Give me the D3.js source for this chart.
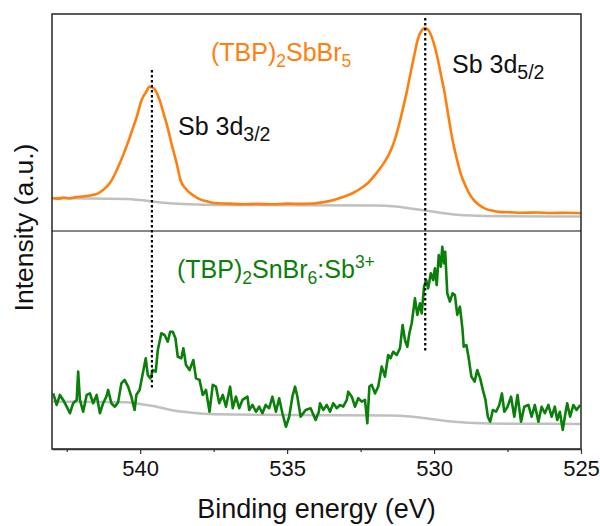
<!DOCTYPE html>
<html>
<head>
<meta charset="utf-8">
<script src="https://cdn.jsdelivr.net/npm/d3@7"></script>
<style>
  html, body { margin: 0; padding: 0; background: #fff; }
  svg { display: block; font-family: "Liberation Sans", Arial, sans-serif; }
</style>
</head>
<body>
<svg id="chart" width="600" height="526"></svg>
<script>
// ---------- DATA ----------
const xTickValues = [540, 535, 530, 525];
const xMinorTicks = [542.5, 537.5, 532.5, 527.5];
const xDomain = [543, 525];

// (TBP)2SbBr5 spectrum [binding energy eV, intensity a.u.]
const sbbrEnergy = [543.00,542.80,542.60,542.40,542.20,541.95,541.70,541.47,541.25,541.03,540.85,540.69,540.55,540.42,540.27,540.12,539.95,539.80,539.68,539.60,539.51,539.34,539.20,539.07,538.92,538.76,538.63,538.45,538.20,537.98,537.70,537.47,537.00,536.50,536.00,535.50,535.00,534.50,534.08,533.75,533.41,533.10,532.76,532.50,532.25,531.98,531.71,531.50,531.34,531.20,531.07,530.93,530.80,530.68,530.56,530.42,530.32,530.22,530.15,530.03,529.92,529.78,529.64,529.50,529.37,529.22,529.10,528.92,528.73,528.50,528.22,528.00,527.81,527.40,527.00,526.50,526.00,525.50,525.00];
const sbbrIntensity = [15.2,14.9,15.4,15.0,15.6,15.9,16.4,17.1,19.0,22.1,26.5,31.3,36.0,40.6,46.5,52.5,60.4,64.0,66.4,66.2,65.4,60.4,54.0,47.9,39.5,31.3,23.5,19.5,16.5,14.7,13.6,12.9,12.6,12.3,12.5,12.3,12.6,12.5,12.7,13.3,14.3,15.7,17.5,19.6,22.1,26.3,31.3,36.3,41.9,48.5,55.8,64.0,72.8,80.5,88.0,92.5,93.5,93.0,91.7,87.5,82.0,73.0,63.6,52.0,41.9,33.0,26.7,20.5,15.7,12.3,10.1,9.3,8.8,8.6,8.4,8.5,8.3,8.4,8.2];
const sbbrBgEnergy = [543.0,540.5,540.0,539.6,539.0,538.3,537.5,532.0,531.3,530.8,530.3,529.8,529.3,528.5,527.5,525.0];
const sbbrBgIntensity = [15.1,14.8,14.3,13.6,12.8,12.3,12.0,11.8,11.3,10.4,9.4,8.4,7.6,7.0,6.8,6.7];

// (TBP)2SnBr6:Sb3+ spectrum
const snbrEnergy = [542.96,542.84,542.73,542.62,542.50,542.39,542.28,542.16,542.11,542.05,541.94,541.82,541.71,541.60,541.48,541.37,541.26,541.15,541.09,540.98,540.86,540.75,540.64,540.53,540.41,540.30,540.19,540.13,540.02,539.91,539.81,539.74,539.65,539.57,539.47,539.40,539.28,539.17,539.06,538.98,538.89,538.80,538.72,538.60,538.53,538.44,538.32,538.19,538.10,537.98,537.87,537.76,537.64,537.53,537.42,537.31,537.19,537.08,536.94,536.85,536.74,536.63,536.52,536.35,536.29,536.18,536.06,535.95,535.84,535.73,535.61,535.50,535.38,535.27,535.16,535.04,534.93,534.82,534.73,534.65,534.54,534.37,534.20,534.03,533.92,
  533.88,533.77,533.65,533.54,533.43,533.31,533.20,533.09,532.97,532.92,532.80,532.69,532.58,532.46,532.35,532.27,532.20,532.12,532.01,531.90,531.78,531.67,531.56,531.48,531.39,531.27,531.16,531.07,530.99,530.91,530.84,530.76,530.65,530.57,530.48,530.42,530.34,530.27,530.20,530.11,530.03,529.97,529.91,529.84,529.77,529.72,529.66,529.62,529.55,529.46,529.37,529.29,529.21,529.12,529.03,528.99,528.90,528.82,528.73,528.62,528.53,528.43,528.34,528.25,528.17,528.09,528.00,527.89,527.78,527.69,527.61,527.50,527.38,527.27,527.16,527.04,526.93,526.79,526.68,526.57,526.45,526.34,526.23,526.11,526.00,525.89,525.81,525.72,525.62,525.55,525.47,525.37,525.26,525.15,525.03];
const snbrIntensity = [25.5,20.2,24.8,22.5,19.4,16.4,21.0,22.5,35.5,22.5,17.1,24.8,25.5,21.0,24.8,16.4,21.0,24.0,27.1,21.0,19.4,21.5,30.1,31.7,28.6,24.0,17.9,24.8,27.1,34.7,41.6,33.9,32.4,36.2,35.5,45.4,53.1,52.3,49.2,53.8,53.8,50.8,42.3,41.6,46.2,38.5,36.2,40.8,32.4,31.7,24.8,27.1,17.1,29.4,28.6,21.0,24.8,19.4,28.6,18.7,24.0,18.7,22.5,24.0,17.9,20.2,17.1,19.4,16.4,20.2,18.7,24.0,17.1,23.3,16.4,10.2,14.8,24.0,28.6,24.0,14.8,17.9,18.7,13.3,17.1,
  21.0,17.9,20.2,17.1,21.0,18.7,20.2,19.4,22.5,26.3,24.0,19.4,23.3,21.7,22.5,11.8,28.6,29.4,25.5,28.6,37.8,33.2,43.1,41.6,44.6,43.1,46.2,56.9,50.0,46.9,53.1,57.7,69.1,61.5,66.8,62.2,74.5,77.5,73.7,80.6,77.5,82.9,75.2,89.0,83.6,92.8,85.2,90.5,71.4,67.6,71.4,70.6,61.5,65.3,54.6,46.9,47.7,41.6,33.2,30.9,36.2,32.4,27.1,22.5,14.8,12.5,17.9,17.1,20.2,25.5,17.1,19.4,24.0,14.8,24.8,12.5,19.4,20.2,14.8,20.2,12.5,19.4,16.4,20.2,14.8,19.4,13.3,17.1,8.7,14.8,21.0,14.8,20.2,17.9,20.2];
const snbrBgEnergy = [543.0,540.5,540.0,539.5,539.0,538.3,537.5,535.0,531.5,530.8,530.3,529.5,528.6,527.5,525.0];
const snbrBgIntensity = [21.7,21.4,20.6,19.6,18.0,16.7,15.9,15.6,15.4,14.9,14.1,12.7,11.9,11.6,11.5];

// peak markers: energy, top (in upper panel units), bottom (in lower panel units)
const peakEnergy = [539.6, 530.3];
const peakTop = [74.2, 98.2];
const peakBottom = [27.5, 45.0];

const colors = { sbbr: "#ff7f0e", snbr: "#0a7f0a", bg: "#c0c0c0" };

// ---------- LAYOUT ----------
const svg = d3.select("#chart");
const L = 52, R = 581, T = 14, M = 231, B = 449;

const x = d3.scaleLinear().domain(xDomain).range([L, R]);
const yTop = d3.scaleLinear().domain([0, 100]).range([M, T]);
const yBot = d3.scaleLinear().domain([0, 100]).range([B, M]);

const zip = (a, b) => a.map((v, i) => [v, b[i]]);

const lineTopSmooth = d3.line().x(d => x(d[0])).y(d => yTop(d[1])).curve(d3.curveMonotoneX);
const lineBot = d3.line().x(d => x(d[0])).y(d => yBot(d[1]));
const lineBotSmooth = d3.line().x(d => x(d[0])).y(d => yBot(d[1])).curve(d3.curveMonotoneX);

// backgrounds
svg.append("path").datum(zip(sbbrBgEnergy, sbbrBgIntensity))
  .attr("d", lineTopSmooth).attr("fill", "none").attr("stroke", colors.bg).attr("stroke-width", 2.5);
svg.append("path").datum(zip(snbrBgEnergy, snbrBgIntensity))
  .attr("d", lineBotSmooth).attr("fill", "none").attr("stroke", colors.bg).attr("stroke-width", 2.5);

// spectra
svg.append("path").datum(zip(sbbrEnergy, sbbrIntensity))
  .attr("d", lineTopSmooth).attr("fill", "none").attr("stroke", colors.sbbr)
  .attr("stroke-width", 2.6).attr("stroke-linejoin", "round");
svg.append("path").datum(zip(snbrEnergy, snbrIntensity))
  .attr("d", lineBot).attr("fill", "none").attr("stroke", colors.snbr)
  .attr("stroke-width", 2.6).attr("stroke-linejoin", "round");

// dotted peak markers
peakEnergy.forEach((e, i) => {
  svg.append("line")
    .attr("x1", x(e)).attr("x2", x(e))
    .attr("y1", yTop(peakTop[i])).attr("y2", yBot(peakBottom[i]))
    .attr("stroke", "#000").attr("stroke-width", 2.2)
    .attr("stroke-dasharray", "2.5,2.5");
});

// frame
svg.append("rect").attr("x", L).attr("y", T).attr("width", R - L).attr("height", B - T)
  .attr("fill", "none").attr("stroke", "#333").attr("stroke-width", 1.6);
svg.append("line").attr("x1", L).attr("x2", R).attr("y1", M).attr("y2", M)
  .attr("stroke", "#111").attr("stroke-width", 1.2);

// x axis
const xAxis = d3.axisBottom(x).tickValues(xTickValues).tickSize(5).tickSizeOuter(0).tickPadding(6)
  .tickFormat(d3.format("d"));
const gx = svg.append("g").attr("transform", `translate(0,${B})`).call(xAxis);
gx.select(".domain").attr("stroke", "#333").attr("stroke-width", 1.6);
gx.selectAll(".tick line").attr("stroke", "#333").attr("stroke-width", 1.2);
gx.selectAll(".tick text").attr("font-size", 22).attr("fill", "#111")
  .attr("font-family", "Liberation Sans, Arial, sans-serif");
const gxm = svg.append("g").attr("transform", `translate(0,${B})`)
  .call(d3.axisBottom(x).tickValues(xMinorTicks).tickSize(3).tickSizeOuter(0).tickFormat(""));
gxm.select(".domain").remove();
gxm.selectAll(".tick line").attr("stroke", "#333").attr("stroke-width", 1.2);

// axis titles
svg.append("text").attr("x", (L + R) / 2).attr("y", 518).attr("text-anchor", "middle")
  .attr("font-size", 27).attr("fill", "#111").text("Binding energy (eV)");
svg.append("text").attr("transform", `translate(33,${(T + B) / 2 - 4}) rotate(-90)`)
  .attr("text-anchor", "middle").attr("font-size", 26.5).attr("fill", "#111").text("Intensity (a.u.)");

// annotation helper with sub/superscripts
function richText(xp, yp, parts, color, subSize) {
  const t = svg.append("text").attr("x", xp).attr("y", yp).attr("font-size", 25).attr("fill", color);
  let shift = 0;
  parts.forEach(p => {
    const target = p.sub ? 6 : p.sup ? -10 : 0;
    const s = t.append("tspan").text(p.t).attr("dy", target - shift);
    if (p.sub || p.sup) s.attr("font-size", subSize || 17.5);
    shift = target;
  });
  return t;
}

richText(211, 61, [{ t: "(TBP)" }, { t: "2", sub: true }, { t: "SbBr" }, { t: "5", sub: true }], colors.sbbr);
richText(178, 135, [{ t: "Sb 3d" }, { t: "3/2", sub: true }], "#111", 19.5);
richText(452, 73, [{ t: "Sb 3d" }, { t: "5/2", sub: true }], "#111", 19.5);
richText(177, 278, [{ t: "(TBP)" }, { t: "2", sub: true }, { t: "SnBr" }, { t: "6", sub: true }, { t: ":Sb" }, { t: "3+", sup: true }], colors.snbr);
</script>
</body>
</html>
